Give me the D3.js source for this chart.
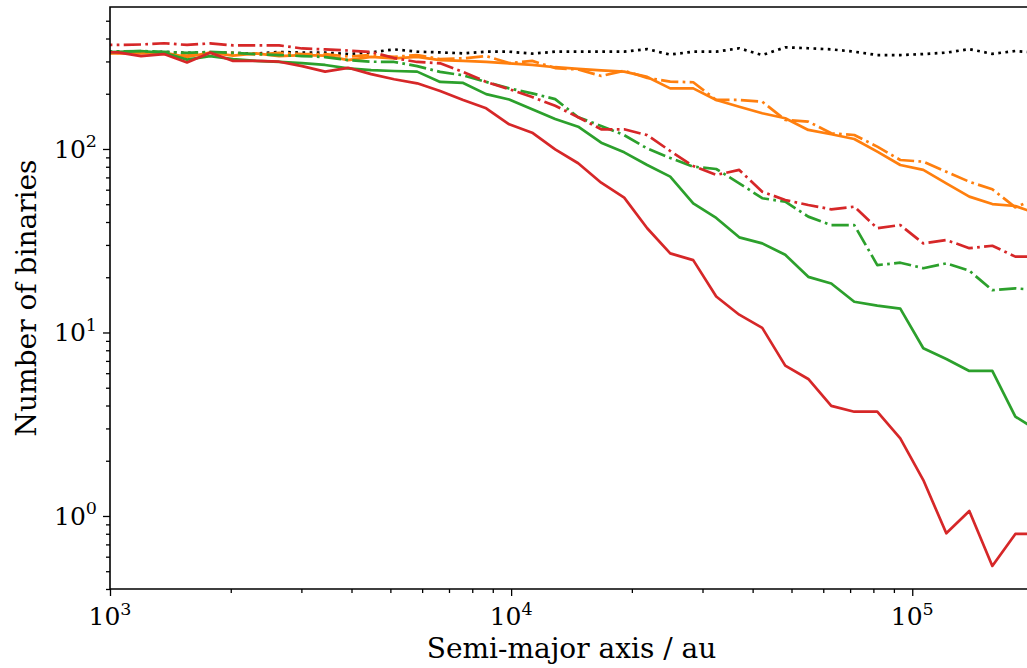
<!DOCTYPE html>
<html>
<head>
<meta charset="utf-8">
<script src="https://cdn.jsdelivr.net/npm/d3@7"></script>
<style>
  body { margin: 0; background: #fff; }
  svg { display: block; }
  text { font-family: "DejaVu Serif", serif; fill: #000; }
</style>
</head>
<body>
<div id="chart"></div>
<script>
/* CONSTANTS AND GLOBALS */
const width = 1027;
const height = 668;
const margin = { top: 7, left: 110, bottom: 79, right: -6 }; // right spine sits just off the picture

// semi-major axis (au) of each bin
const axisAu = [918, 1047, 1195, 1363, 1556, 1776, 2027, 2313, 2640, 3012,
  3438, 3923, 4477, 5109, 5831, 6653, 7593, 8665, 9888, 11284,
  12877, 14695, 16770, 19138, 21840, 24923, 28443, 32458, 37041, 42270,
  48238, 55050, 62820, 71690, 81810, 93360, 106550, 121590, 138760, 158350,
  180720, 206230];

// number of binaries per bin
const blackDotted = [338, 338, 336, 338, 334, 336, 334, 331, 338, 335,
  335, 329, 336, 349, 339, 336, 332, 339, 339, 331,
  339, 339, 339, 339, 350, 327, 339, 339, 354, 325,
  358, 354, 349, 339, 325, 325, 329, 335, 350, 330,
  342, 334];
const orangeSolid = [331, 332, 332, 335, 317, 335, 323, 332, 321, 325,
  323, 305, 318, 312, 318, 305, 302, 298, 293, 287,
  279, 273, 268, 264, 247, 214, 214, 185, 170, 156.5,
  147, 127, 120.3, 113.4, 96.7, 81.8, 76.9, 65.0, 55.0, 50.1,
  48.9, 44.2];
const orangeDashDot = [334, 334, 338, 329, 323, 336, 334, 327, 334, 329,
  329, 319, 325, 318, 325, 309, 312, 321, 294, 302,
  276, 271, 250, 267, 244, 233, 231, 185, 185, 181,
  144, 141, 121.8, 119.2, 103, 87.1, 85.3, 75.2, 66.3, 60.3,
  48.1, 54.1];
const greenSolid = [336, 338, 342, 334, 307, 321, 309, 302, 298, 294,
  287, 275, 269, 266, 264, 232, 229, 199, 186, 164.6,
  145.7, 132.3, 108.2, 95.9, 81.8, 70.7, 50.6, 42.1, 33.0, 30.6,
  26.5, 20.1, 18.5, 14.7, 14.0, 13.5, 8.20, 7.17, 6.17, 6.17,
  3.48, 2.90];
const greenDashDot = [338, 340, 342, 338, 334, 338, 334, 329, 325, 321,
  317, 305, 299, 298, 283, 263, 252, 232, 214, 201,
  187, 149, 133.5, 119, 100.6, 89.3, 80.1, 77.8, 65.0, 53.9,
  51.6, 42.8, 38.5, 38.5, 23.3, 24.0, 22.4, 23.8, 21.7, 17.0,
  17.4, 17.0];
const redSolid = [338, 336, 321, 329, 296, 335, 302, 302, 299, 283,
  264, 277, 256, 240, 228, 207, 185, 166.6, 136.3, 122.7,
  99.6, 83.6, 65.5, 54.3, 37.0, 27.0, 24.8, 15.7, 12.5, 10.6,
  6.6, 5.58, 3.98, 3.70, 3.70, 2.65, 1.57, 0.805, 1.065, 0.534,
  0.798, 0.8];
const redDashDot = [369, 369, 371, 377, 369, 376, 367, 367, 367, 353,
  349, 344, 338, 313, 298, 293, 263, 232, 212, 192,
  172, 149, 128, 128, 119, 97.5, 80.8, 72.2, 76.9, 58.5,
  52.7, 49.5, 46.9, 48.5, 37.0, 38.5, 30.6, 31.9, 28.8, 29.7,
  25.9, 25.9];

// tick labels (powers of ten)
const xTickExps = [3, 4, 5];
const yTickExps = [0, 1, 2];

const lw = 2.7;
const dashDot = `${6.4 * lw},${1.6 * lw},${lw},${1.6 * lw}`;
const series = [
  { values: blackDotted, color: "#000000", dash: `${lw},${1.65 * lw}` },
  { values: orangeSolid, color: "#ff7f0e", dash: null },
  { values: orangeDashDot, color: "#ff7f0e", dash: dashDot },
  { values: greenSolid, color: "#2ca02c", dash: null },
  { values: greenDashDot, color: "#2ca02c", dash: dashDot },
  { values: redSolid, color: "#d62728", dash: null },
  { values: redDashDot, color: "#d62728", dash: dashDot },
];

const svg = d3.select("#chart")
  .append("svg")
  .attr("width", width)
  .attr("height", height);

/* SCALES */
const xScale = d3.scaleLog()
  .domain([1e3, 2e5])
  .range([margin.left, width - margin.right]);

const yScale = d3.scaleLog()
  .domain([0.4, 594])
  .range([height - margin.bottom, margin.top]);

const plotBottom = height - margin.bottom;

/* AXES */
const xMinor = [];
for (let e = 3; e <= 5; e++) for (let m = 2; m <= 9; m++) {
  const v = m * Math.pow(10, e);
  if (v <= 2e5) xMinor.push(v);
}
const yMinor = [];
for (let e = -1; e <= 2; e++) for (let m = 2; m <= 9; m++) {
  const v = m * Math.pow(10, e);
  if (v >= 0.4 && v <= 594) yMinor.push(v);
}

const xAxis = d3.axisBottom(xScale)
  .tickValues(xTickExps.map(e => Math.pow(10, e)))
  .tickSize(7).tickFormat("");
const xAxisMinor = d3.axisBottom(xScale)
  .tickValues(xMinor).tickSize(4).tickFormat("");
const yAxis = d3.axisLeft(yScale)
  .tickValues(yTickExps.map(e => Math.pow(10, e)))
  .tickSize(7).tickFormat("");
const yAxisMinor = d3.axisLeft(yScale)
  .tickValues(yMinor).tickSize(4).tickFormat("");

[xAxis, xAxisMinor].forEach(ax => {
  svg.append("g")
    .attr("transform", `translate(0,${plotBottom})`)
    .call(ax)
    .call(g => g.select(".domain").remove())
    .call(g => g.selectAll("line").attr("stroke-width", 1.3));
});
[yAxis, yAxisMinor].forEach(ax => {
  svg.append("g")
    .attr("transform", `translate(${margin.left},0)`)
    .call(ax)
    .call(g => g.select(".domain").remove())
    .call(g => g.selectAll("line").attr("stroke-width", 1.3));
});

// tick labels 10^n
xTickExps.forEach(e => {
  const t = svg.append("text")
    .attr("x", xScale(Math.pow(10, e)))
    .attr("y", plotBottom + 36)
    .attr("text-anchor", "middle")
    .style("font-size", "25px");
  t.append("tspan").text("10");
  t.append("tspan").attr("dy", "-0.6em").style("font-size", "17.5px").text(e);
});
yTickExps.forEach(e => {
  const t = svg.append("text")
    .attr("x", margin.left - 13)
    .attr("y", yScale(Math.pow(10, e)) + 9)
    .attr("text-anchor", "end")
    .style("font-size", "25px");
  t.append("tspan").text("10");
  t.append("tspan").attr("dy", "-0.6em").style("font-size", "17.5px").text(e);
});

/* LINES */
svg.append("clipPath").attr("id", "plot-clip")
  .append("rect")
  .attr("x", margin.left).attr("y", margin.top)
  .attr("width", width - margin.right - margin.left)
  .attr("height", plotBottom - margin.top);

const line = d3.line()
  .x((d, i) => xScale(axisAu[i]))
  .y(d => yScale(d));

svg.append("g")
  .attr("clip-path", "url(#plot-clip)")
  .selectAll("path")
  .data(series)
  .join("path")
  .attr("d", d => line(d.values))
  .attr("fill", "none")
  .attr("stroke", d => d.color)
  .attr("stroke-width", lw)
  .attr("stroke-linejoin", "round")
  .attr("stroke-dasharray", d => d.dash);

// spines (left, top, bottom)
svg.append("path")
  .attr("d", `M${xScale(2e5)},${margin.top}H${margin.left}V${plotBottom}H${xScale(2e5)}`)
  .attr("fill", "none")
  .attr("stroke", "#000")
  .attr("stroke-width", 1.6);

// AXIS LABELS
svg.append("text")
  .attr("x", (margin.left + xScale(2e5)) / 2)
  .attr("y", 658)
  .attr("text-anchor", "middle")
  .style("font-size", "28px")
  .text("Semi-major axis / au");

svg.append("text")
  .attr("transform", `translate(36,${(margin.top + plotBottom) / 2}) rotate(-90)`)
  .attr("text-anchor", "middle")
  .style("font-size", "28px")
  .text("Number of binaries");
</script>
</body>
</html>
